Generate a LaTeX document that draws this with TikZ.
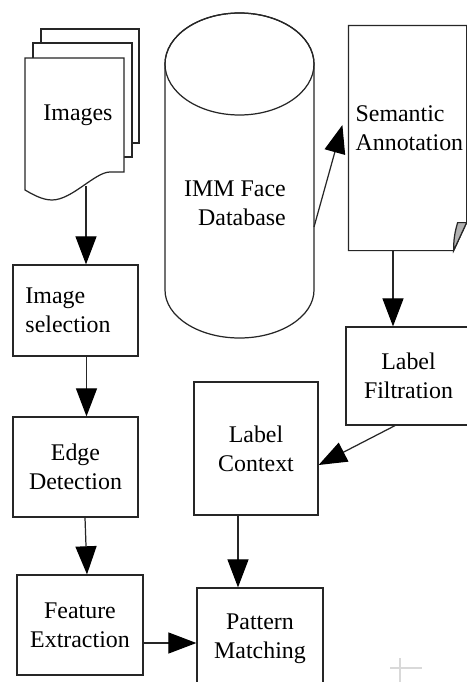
\documentclass[tikz,border=0pt]{standalone}
\usepackage{fontspec}
\setmainfont{Liberation Serif}
\usetikzlibrary{
		calc,
		positioning,
		arrows.meta
	}
\tikzset{
		>={Triangle[length=16pt,width=12pt,black]},
		box/.style={draw=black!85, fill=white, inner sep=0pt, align=center, font=\fontsize{13.6}{16.5}\selectfont},
		txt/.style={inner sep=0pt, font=\fontsize{13.6}{16.5}\selectfont}
	}

\begin{document}
\begin{tikzpicture}[x=0.2mm, y=-0.2mm, line width=0.7pt, draw=black!85]
		\useasboundingbox (0,0) rectangle (467,682);
		% Document stack
		\draw[fill=white] (41,29) rectangle (139,143);
		\draw[fill=white] (33,43) rectangle (132,157);
		\draw[fill=white] (25,58) -- (124,58) -- (124,172) -- (110,172) .. controls (95,172) and (72,200) .. (52,200) .. controls (42,200) and (32,194) .. (25,190) -- cycle;
		\node[txt] (imgs) at (78,115) {Images};
		\coordinate (docend) at (86,186);
		% Cylinder
		\draw[fill=white] (165,64) -- (165,290) arc[start angle=180, end angle=360, x radius=14.9mm, y radius=9.6mm] -- (314,64) arc[start angle=0, end angle=180, x radius=14.9mm, y radius=10.2mm] -- cycle;
		\draw (239.5,64) ellipse [x radius=14.9mm, y radius=10.2mm];
		\node[txt, align=right] (db) at (235,203) {IMM Face\\Database};
		\coordinate (dbside) at (314,227);
		% Annotation sheet
		\node[minimum width=23.4mm, minimum height=44.8mm, inner sep=0pt] (sem) at (407.5,138) {};
		\draw[fill=white] (sem.south west) -- (sem.north west) -- (sem.north east) -- ([yshift=5.6mm]sem.south east) -- ([xshift=-2.6mm]sem.south east) -- cycle;
		\draw[fill=black!30] ([xshift=-2.6mm]sem.south east) to[bend left=8] ([xshift=-1.8mm,yshift=5.6mm]sem.south east) -- ([yshift=5.6mm]sem.south east) -- cycle;
		\node[txt, align=left, anchor=west] (semtxt) at (355,128) {Semantic\\Annotation};
		% Boxes
		\node[box, minimum width=25mm, minimum height=18.2mm, text width=20mm, align=left] (imgsel) at (75.5,310.5) {Image\\selection};
		\node[box, minimum width=25mm, minimum height=20mm] (edge) at (75.5,467) {Edge\\Detection};
		\node[box, minimum width=25.2mm, minimum height=20mm] (feat) at (80,625) {Feature\\Extraction};
		\node[box, minimum width=25mm, minimum height=19.6mm] (filt) at (408.5,376) {Label\\Filtration};
		\node[box, minimum width=24.8mm, minimum height=26.6mm] (ctx) at (256,448.5) {Label\\Context};
		\node[box, minimum width=25.2mm, minimum height=20.2mm] (patt) at (260,638.5) {Pattern\\Matching};
		% Arrows
		\draw[->] (docend) -- (docend |- imgsel.north);
		\draw[->] ([xshift=2.2mm]imgsel.south) -- ([xshift=2.2mm]edge.north);
		\draw[->] ([xshift=1.9mm]edge.south) -- ([xshift=1.4mm]feat.north);
		\draw[->] ([yshift=-3.6mm]feat.east) coordinate (fe) -- (fe -| patt.west);
		\draw[->] (dbside) -- ([xshift=-1.2mm,yshift=2.6mm]sem.west);
		\draw[->] ([xshift=-2.9mm]sem.south) coordinate (ss) -- (ss |- filt.north);
		\draw[->] ([xshift=-2.7mm]filt.south) -- ([yshift=-3.3mm]ctx.east);
		\draw[->] ([xshift=-3.6mm]ctx.south) coordinate (cs) -- (cs |- patt.north);
		% Cross mark
		\draw[black!15] (390,668) -- (422,668) (400,658) -- (400,682);
	\end{tikzpicture}
\end{document}
